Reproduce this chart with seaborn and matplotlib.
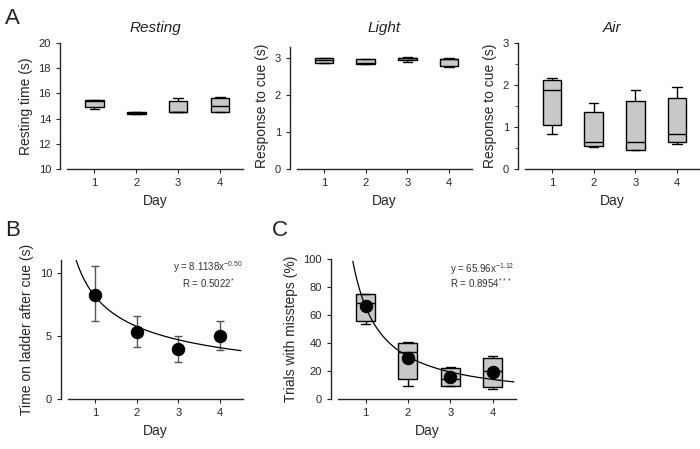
import numpy as np
import pandas as pd
import matplotlib
matplotlib.use('Agg')
import matplotlib.pyplot as plt
import seaborn as sns
from matplotlib.ticker import MultipleLocator

days = [1, 2, 3, 4]

# five values per day (min, q1, median, q3, max) -> boxes with whiskers at min/max
resting = [[14.75, 14.9, 15.4, 15.45, 15.5],
           [14.38, 14.4, 14.45, 14.5, 14.5],
           [14.5, 14.5, 14.55, 15.4, 15.6],
           [14.5, 14.5, 15.0, 15.6, 15.75]]
light = [[2.86, 2.86, 2.95, 3.0, 3.0],
         [2.83, 2.84, 2.86, 2.97, 2.98],
         [2.89, 2.93, 2.99, 3.0, 3.01],
         [2.75, 2.78, 2.96, 2.98, 3.0]]
air = [[0.84, 1.05, 1.89, 2.12, 2.17],
       [0.52, 0.54, 0.64, 1.36, 1.58],
       [0.45, 0.45, 0.64, 1.62, 1.89],
       [0.60, 0.64, 0.84, 1.69, 1.96]]

# panel B: mean and error bar ends
ladder_mean = [8.2, 5.3, 3.95, 5.0]
ladder_lo = [6.2, 4.1, 2.9, 3.9]
ladder_hi = [10.5, 6.55, 4.95, 6.15]
fit_b = (8.1138, -0.50)

# panel C
missteps = [[53.6, 56.0, 68.8, 75.0, 75.0],
            [9.3, 14.3, 33.6, 40.0, 40.7],
            [9.3, 9.3, 14.3, 22.1, 22.9],
            [7.1, 8.6, 20.0, 29.3, 30.7]]
missteps_mean = [66.2, 29.3, 15.7, 19.3]
fit_c = (65.96, -1.12)

sns.set_style('ticks')
plt.rcParams['font.family'] = ['Liberation Sans', 'DejaVu Sans']
plt.rcParams['axes.linewidth'] = 1.0
plt.rcParams['xtick.major.size'] = 3
plt.rcParams['ytick.major.size'] = 3
plt.rcParams['xtick.labelsize'] = 8
plt.rcParams['ytick.labelsize'] = 8
plt.rcParams['axes.labelsize'] = 10
plt.rcParams['text.color'] = '#222222'

W, H = 700, 449


def box_axes(x0, x1, ytop, ybot):
    return fig.add_axes([x0 / W, 1 - ybot / H, (x1 - x0) / W, (ybot - ytop) / H])


def long_form(vals):
    return pd.DataFrame({'Day': np.repeat(days, 5), 'value': np.concatenate(vals)})


def draw_boxes(ax, vals):
    sns.boxplot(data=long_form(vals), x='Day', y='value', native_scale=True,
                width=0.45, color='#c8c8c8', saturation=1, linecolor='black',
                linewidth=1, whis=(0, 100), ax=ax)


def finish(ax, ylabel):
    ax.set_xlim(0.35, 4.55)
    ax.set_xticks(days)
    ax.set_xticklabels([str(d) for d in days])
    ax.set_xlabel('Day')
    ax.set_ylabel(ylabel)
    sns.despine(ax=ax)
    ax.spines['left'].set_position(('outward', 5))


fig = plt.figure(figsize=(7, 4.49), dpi=100)

# Panel A
ax1 = box_axes(67, 243, 43, 169)
draw_boxes(ax1, resting)
ax1.set_ylim(10, 20)
ax1.set_yticks(range(10, 21, 2))
finish(ax1, 'Resting time (s)')
ax1.set_title('Resting', style='italic', fontsize=11, pad=8)

ax2 = box_axes(297, 472, 43, 169)
draw_boxes(ax2, light)
ax2.set_ylim(0, 3.4)
ax2.set_yticks([0, 1, 2, 3])
finish(ax2, 'Response to cue (s)')
ax2.spines['left'].set_bounds(0, 3.3)
ax2.set_title('Light', style='italic', fontsize=11, pad=8)

ax3 = box_axes(525, 700, 43, 169)
draw_boxes(ax3, air)
ax3.set_ylim(0, 3)
ax3.set_yticks([0, 1, 2, 3])
ax3.yaxis.set_minor_locator(MultipleLocator(0.5))
ax3.tick_params(axis='y', which='minor', length=2)
finish(ax3, 'Response to cue (s)')
ax3.set_title('Air', style='italic', fontsize=11, pad=8)

# Panel B
ax4 = box_axes(68, 243, 260, 399)
mean_b = np.array(ladder_mean)
ax4.errorbar(days, mean_b, yerr=[mean_b - np.array(ladder_lo), np.array(ladder_hi) - mean_b],
             fmt='none', ecolor='#555555', elinewidth=1, capsize=3.2, zorder=2)
xb = np.linspace(0.5, 4.5, 200)
sns.lineplot(x=xb, y=fit_b[0] * xb ** fit_b[1], color='black', linewidth=0.9, ax=ax4, zorder=2)
sns.scatterplot(x=days, y=ladder_mean, color='black', s=80, edgecolor='black', ax=ax4, zorder=3)
ax4.set_ylim(0, 11)
ax4.set_yticks([0, 5, 10])
finish(ax4, 'Time on ladder after cue (s)')
ax4.text(0.8, 0.95, r'y = 8.1138x$^{\mathregular{-0.50}}$', transform=ax4.transAxes,
         ha='center', va='center', fontsize=7, color='#333333')
ax4.text(0.8, 0.835, r'R = 0.5022$^{\mathregular{*}}$', transform=ax4.transAxes,
         ha='center', va='center', fontsize=7, color='#333333')

# Panel C
ax5 = box_axes(338, 516, 259, 399)
draw_boxes(ax5, missteps)
xc = np.linspace(0.7, 4.5, 200)
sns.lineplot(x=xc, y=fit_c[0] * xc ** fit_c[1], color='black', linewidth=0.9, ax=ax5, zorder=3)
sns.scatterplot(x=days, y=missteps_mean, color='black', s=80, edgecolor='black', ax=ax5, zorder=4)
ax5.set_ylim(0, 100)
ax5.set_yticks(range(0, 101, 20))
finish(ax5, 'Trials with missteps (%)')
ax5.text(0.63, 0.93, r'y = 65.96x$^{\mathregular{-1.12}}$', transform=ax5.transAxes,
         ha='left', va='center', fontsize=7, color='#333333')
ax5.text(0.63, 0.83, r'R = 0.8954$^{\mathregular{***}}$', transform=ax5.transAxes,
         ha='left', va='center', fontsize=7, color='#333333')

fig.text(5 / W, 1 - 19 / H, 'A', fontsize=16, va='center', ha='left')
fig.text(5 / W, 1 - 230 / H, 'B', fontsize=16, va='center', ha='left')
fig.text(272 / W, 1 - 230 / H, 'C', fontsize=16, va='center', ha='left')

fig.savefig('out.png', dpi=100)
